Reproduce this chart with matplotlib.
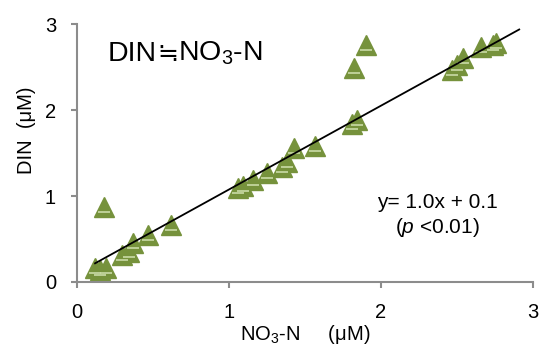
import numpy as np
import matplotlib
matplotlib.use('Agg')
import matplotlib.pyplot as plt
from matplotlib.transforms import offset_copy

plt.rcParams['font.family'] = ['Liberation Sans', 'DejaVu Sans']
plt.rcParams['mathtext.fontset'] = 'custom'
plt.rcParams['mathtext.rm'] = 'Liberation Sans'
plt.rcParams['mathtext.it'] = 'Liberation Sans:italic'

# NO3-N vs DIN (uM)
no3 = [0.12, 0.15, 0.19, 0.18, 0.30, 0.34, 0.37, 0.47, 0.62,
       1.06, 1.09, 1.16, 1.25, 1.35, 1.38, 1.43, 1.57,
       1.81, 1.84, 1.82, 1.90, 2.47, 2.50, 2.54, 2.66, 2.74, 2.76]
din = [0.16, 0.14, 0.16, 0.87, 0.31, 0.35, 0.45, 0.55, 0.66,
       1.09, 1.12, 1.19, 1.27, 1.34, 1.40, 1.56, 1.58,
       1.84, 1.88, 2.49, 2.76, 2.47, 2.52, 2.60, 2.73, 2.76, 2.78]

# trend line as drawn in the reference
slope = 0.975
intercept = 0.1
fit_x = [0.12, 2.91]

xticks = [0, 1, 2, 3]
yticks = [0, 1, 2, 3]

green = '#76923c'
light = '#c9dba6'
grey = '#8c8c8c'

fig = plt.figure(figsize=(5.41, 3.49), dpi=100)
ax = fig.add_axes([0.142, 0.192, 0.843, 0.739])

ax.plot(no3, din, linestyle='none', marker='^', markersize=14,
        color=green, markeredgecolor=green, zorder=2)
# faint highlight line inside each triangle
ax.plot(no3, din, linestyle='none', marker='_', markersize=8,
        markeredgewidth=1.2, color=light, zorder=3,
        transform=offset_copy(ax.transData, fig=fig, y=-5, units='dots'))

fx = np.array(fit_x)
ax.plot(fx, slope * fx + intercept, color='black', linewidth=1.3, zorder=4)

ax.set_xlim(0, 3)
ax.set_ylim(0, 3)
ax.set_xticks(xticks)
ax.set_yticks(yticks)
for s in ['top', 'right']:
    ax.spines[s].set_visible(False)
for s in ['left', 'bottom']:
    ax.spines[s].set_color(grey)
    ax.spines[s].set_linewidth(1.5)
ax.tick_params(axis='both', colors=grey, width=1.5, length=4,
               labelcolor='black', labelsize=14.5)
ax.tick_params(axis='x', pad=11)
ax.tick_params(axis='y', pad=11)

ax.set_xlabel('NO$_3$-N     (μM)', fontsize=14.5)
ax.xaxis.set_label_coords(0.5, -0.16)
ax.set_ylabel('DIN  (μM)', fontsize=14.5)
ax.yaxis.set_label_coords(-0.09, 0.59)

# title pieces: Liberation Sans has no usable glyph for the approx sign
t1 = ax.text(0.068, 0.885, 'DIN', transform=ax.transAxes,
             fontsize=20.5, va='center', ha='left')
t2 = ax.annotate('≒', xy=(1, 0.5), xycoords=t1, fontsize=18,
                 va='center', ha='left', family='DejaVu Sans')
ax.annotate('NO$_3$-N', xy=(1, 0.5), xycoords=t2, fontsize=20.5,
            va='center', ha='left')

ax.text(0.79, 0.31, 'y= 1.0x + 0.1', transform=ax.transAxes,
        fontsize=15, ha='center', va='center')
ax.text(0.79, 0.21, '($p$ <0.01)', transform=ax.transAxes,
        fontsize=15, ha='center', va='center')

fig.savefig('out.png', dpi=100)
